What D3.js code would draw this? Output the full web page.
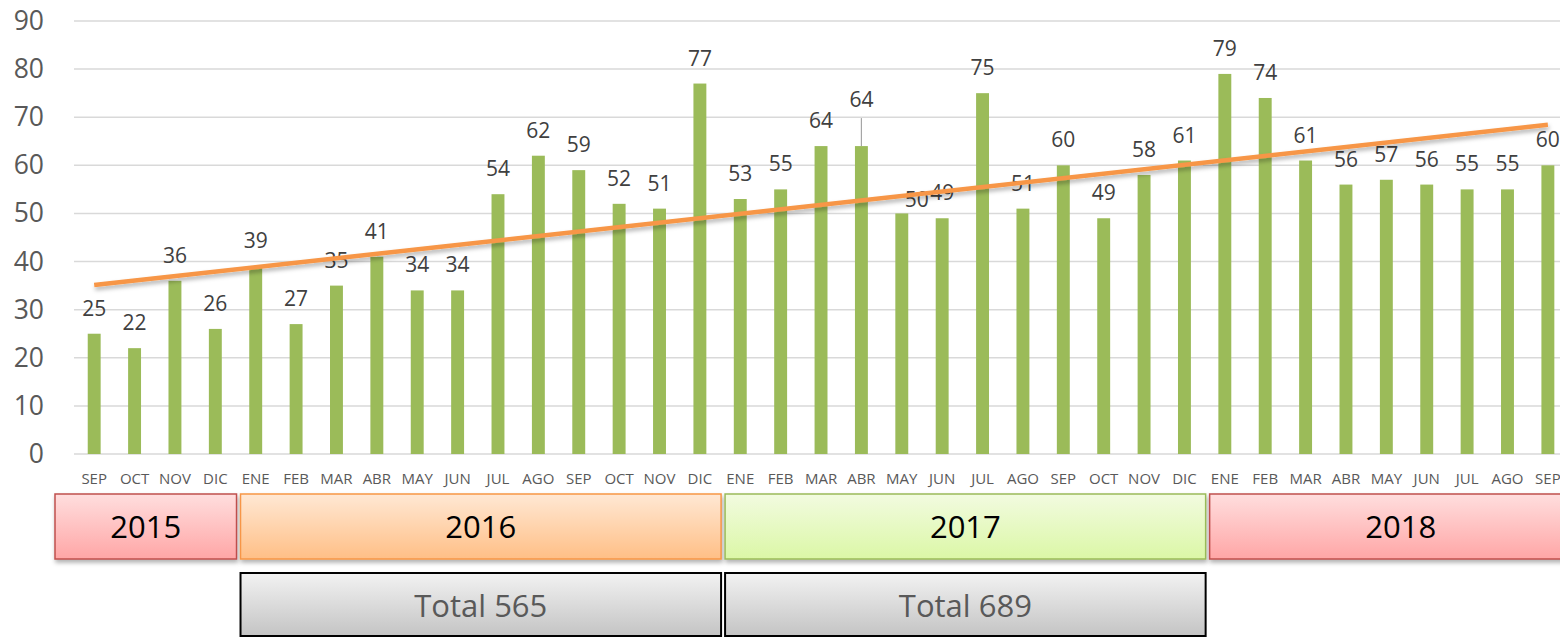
<!DOCTYPE html>
<html>
<head>
<meta charset="utf-8">
<script src="https://cdn.jsdelivr.net/npm/d3@7"></script>
<style>
  body { margin: 0; background: #fff; }
  svg { display: block; font-family: "Open Sans", sans-serif; }
</style>
</head>
<body>
<div id="chart-container"></div>
<script>
// monthly values sep 2015 - sep 2018, bars + linear trend

const months = ["SEP","OCT","NOV","DIC",
    "ENE","FEB","MAR","ABR","MAY","JUN","JUL","AGO","SEP","OCT","NOV","DIC",
    "ENE","FEB","MAR","ABR","MAY","JUN","JUL","AGO","SEP","OCT","NOV","DIC",
    "ENE","FEB","MAR","ABR","MAY","JUN","JUL","AGO","SEP"];
const values = [25,22,36,26,
    39,27,35,41,34,34,54,62,59,52,51,77,
    53,55,64,64,50,49,75,51,60,49,58,61,
    79,74,61,56,57,56,55,55,60];
const yTicks = [0,10,20,30,40,50,60,70,80,90];
const years = ["2015","2016","2017","2018"];
const yearStart = [0, 4, 16, 28];
const yearEnd = [3, 15, 27, 36];
const totalYears = ["2016","2017"];
const totalLabels = ["Total 565","Total 689"];

const svgWidth = 1560;
const svgHeight = 638;
const plotLeft = 74;
const step = 40.38;

const svg = d3.select("#chart-container")
    .append("svg")
    .attr("width", svgWidth)
    .attr("height", svgHeight);

const defs = svg.append("defs");
const shadow = defs.append("filter").attr("id", "shadow")
    .attr("x", "-10%").attr("y", "-30%").attr("width", "120%").attr("height", "170%");
shadow.append("feDropShadow").attr("dx", 1).attr("dy", 3).attr("stdDeviation", 2)
    .attr("flood-color", "#000").attr("flood-opacity", 0.3);

function gradient(id, top, bottom) {
    const g = defs.append("linearGradient").attr("id", id)
        .attr("x1", 0).attr("y1", 0).attr("x2", 0).attr("y2", 1);
    g.append("stop").attr("offset", "0%").attr("stop-color", top);
    g.append("stop").attr("offset", "100%").attr("stop-color", bottom);
}
gradient("gRed", "#ffdede", "#ffa6a6");
gradient("gOrange", "#ffe8d4", "#ffbf86");
gradient("gGreen", "#f2fbe0", "#dbf7a6");
gradient("gGray", "#f2f2f2", "#c4c4c4");

const yearStyle = {
    "2015": { fill: "url(#gRed)", stroke: "#c0504d" },
    "2016": { fill: "url(#gOrange)", stroke: "#f79646" },
    "2017": { fill: "url(#gGreen)", stroke: "#9bbb59" },
    "2018": { fill: "url(#gRed)", stroke: "#c0504d" }
};

const x = d3.scaleBand()
    .domain(d3.range(values.length))
    .range([plotLeft, plotLeft + step * values.length])
    .paddingInner(0.68)
    .paddingOuter(0.34);

const y = d3.scaleLinear().domain([0, 90]).range([454, 21]);

const cx = i => x(i) + x.bandwidth() / 2;

// gridlines
svg.append("g").selectAll("line")
    .data(yTicks)
    .enter().append("line")
    .attr("x1", plotLeft).attr("x2", svgWidth)
    .attr("y1", d => y(d)).attr("y2", d => y(d))
    .attr("stroke", "#d9d9d9").attr("stroke-width", 1.5);

// y axis labels
const yAxis = svg.append("g")
    .attr("transform", "translate(44,0)")
    .call(d3.axisLeft(y).tickValues(yTicks).tickSize(0).tickPadding(0));
yAxis.select(".domain").remove();
yAxis.selectAll("text")
    .attr("font-family", "Open Sans, sans-serif")
    .attr("font-size", "26.5px")
    .attr("fill", "#595959");

// bars
svg.append("g").selectAll("rect")
    .data(values)
    .enter().append("rect")
    .attr("x", (d, i) => x(i))
    .attr("y", d => y(d))
    .attr("width", x.bandwidth())
    .attr("height", d => y(0) - y(d))
    .attr("fill", "#9bbb59");

// month labels
const xAxis = svg.append("g")
    .attr("transform", "translate(0,473)")
    .call(d3.axisBottom(x).tickSize(0).tickPadding(0).tickFormat(i => months[i]));
xAxis.select(".domain").remove();
xAxis.selectAll("text")
    .attr("font-family", "Open Sans, sans-serif")
    .attr("font-size", "15px")
    .attr("fill", "#595959");

// data labels (a couple were dragged in the original)
const nudge = { 19: [0, -21], 20: [15, 12] };
const labels = svg.append("g");
values.forEach(function(v, i) {
    const n = nudge[i] || [0, 0];
    if (i === 19) {
        labels.append("line")
            .attr("x1", cx(i)).attr("x2", cx(i))
            .attr("y1", y(v) - 28).attr("y2", y(v))
            .attr("stroke", "#a6a6a6").attr("stroke-width", 1.2);
    }
    labels.append("text")
        .attr("x", cx(i) + n[0])
        .attr("y", y(v) - 18 + n[1])
        .attr("text-anchor", "middle")
        .attr("font-size", "21px")
        .attr("fill", "#404040")
        .text(v);
});

// linear trendline (least squares on the bars)
const xs = d3.range(values.length);
const mx = d3.mean(xs), my = d3.mean(values);
const slope = d3.sum(xs, i => (i - mx) * (values[i] - my)) / d3.sum(xs, i => (i - mx) * (i - mx));
const icpt = my - slope * mx;
const last = values.length - 1;
svg.append("line")
    .attr("x1", cx(0)).attr("y1", y(icpt))
    .attr("x2", cx(last)).attr("y2", y(icpt + slope * last))
    .attr("stroke", "#f79646").attr("stroke-width", 4.5)
    .attr("filter", "url(#shadow)");

// year boxes
const boxLeft = i => (i === 0 ? plotLeft - 19 : x(i) - step * 0.34 + 5);
const boxRight = i => (i === last ? svgWidth + 32 : x(i) + x.bandwidth() + step * 0.34 + 1);

years.forEach(function(yr, k) {
    const x0 = boxLeft(yearStart[k]);
    const x1 = boxRight(yearEnd[k]);
    svg.append("rect")
        .attr("x", x0).attr("y", 494)
        .attr("width", x1 - x0).attr("height", 65)
        .attr("fill", yearStyle[yr].fill)
        .attr("stroke", yearStyle[yr].stroke).attr("stroke-width", 1.5)
        .attr("filter", "url(#shadow)");
    svg.append("text")
        .attr("x", (x0 + x1) / 2)
        .attr("y", 538)
        .attr("text-anchor", "middle")
        .attr("font-size", "31px")
        .attr("fill", "#000")
        .text(yr);
});

totalYears.forEach(function(yr, k) {
    const idx = years.indexOf(yr);
    const x0 = boxLeft(yearStart[idx]);
    const x1 = boxRight(yearEnd[idx]);
    svg.append("rect")
        .attr("x", x0).attr("y", 573)
        .attr("width", x1 - x0).attr("height", 63)
        .attr("fill", "url(#gGray)")
        .attr("stroke", "#000").attr("stroke-width", 2);
    svg.append("text")
        .attr("x", (x0 + x1) / 2)
        .attr("y", 617)
        .attr("text-anchor", "middle")
        .attr("font-size", "31px")
        .attr("fill", "#595959")
        .text(totalLabels[k]);
});
</script>
</body>
</html>
